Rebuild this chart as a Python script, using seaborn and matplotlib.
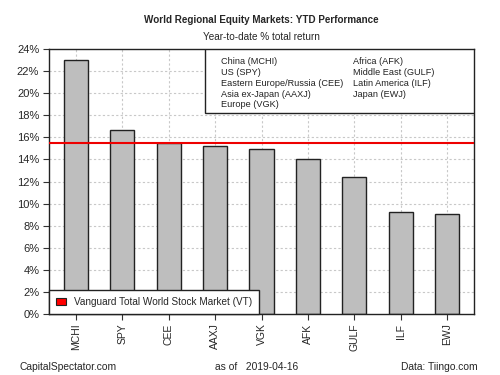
import matplotlib
matplotlib.use("Agg")
import matplotlib.pyplot as plt
import matplotlib.patches as mpatches
import pandas as pd
import seaborn as sns

tickers = ['MCHI', 'SPY', 'CEE', 'AAXJ', 'VGK', 'AFK', 'GULF', 'ILF', 'EWJ']
returns = [23.0, 16.7, 15.5, 15.2, 14.95, 14.0, 12.45, 9.2, 9.05]
vt_return = 15.5
names_left = ['China (MCHI)', 'US (SPY)', 'Eastern Europe/Russia (CEE)', 'Asia ex-Japan (AAXJ)',
              'Europe (VGK)']
names_right = ['Africa (AFK)', 'Middle East (GULF)', 'Latin America (ILF)', 'Japan (EWJ)']

df = pd.DataFrame({'ticker': tickers, 'ret': returns})

sns.set_style("white")
plt.rcParams['font.family'] = ['Liberation Sans', 'DejaVu Sans']

fig = plt.figure(figsize=(5, 3.75), dpi=100)
ax = fig.add_axes([0.098, 0.163, 0.85, 0.706])

# grid first so bars sit on top
for i in range(len(tickers)):
    ax.axvline(i, color='#c8c8c8', lw=0.8, ls=(0, (2, 2)), zorder=0)
for y in range(2, 24, 2):
    ax.axhline(y, color='#c8c8c8', lw=0.8, ls=(0, (2, 2)), zorder=0)

sns.barplot(data=df, x='ticker', y='ret', color='#bebebe', saturation=1,
            edgecolor='#222222', linewidth=1.0, width=0.52, ax=ax, zorder=2)

ax.axhline(vt_return, color='#ee0000', lw=1.5, zorder=3)

ax.set_ylim(0, 24)
ax.set_xlim(-0.58, len(tickers) - 1 + 0.58)
ax.set_yticks(range(0, 25, 2))
ax.set_yticklabels([f'{v}%' for v in range(0, 25, 2)], fontsize=8)
ax.set_xticks(range(len(tickers)))
ax.set_xticklabels(tickers, rotation=90, fontsize=7.5)
ax.set_xlabel('')
ax.set_ylabel('')
ax.tick_params(axis='both', length=4, width=0.8, color='#333333', direction='out',
               left=True, bottom=True, pad=3)
for s in ax.spines.values():
    s.set_color('#222222')
    s.set_linewidth(1.0)

# fund name key, top right (text only, like the R legend)
box = mpatches.Rectangle((0.367, 0.758), 0.633, 0.242, transform=ax.transAxes,
                         facecolor='white', edgecolor='#222222', lw=1.0, zorder=5)
ax.add_patch(box)
row_y = [0.955, 0.913, 0.872, 0.830, 0.789]
for yy, name in zip(row_y, names_left):
    ax.text(0.405, yy, name, transform=ax.transAxes, fontsize=6.6, va='center',
            color='#222222', zorder=6)
for yy, name in zip(row_y, names_right):
    ax.text(0.715, yy, name, transform=ax.transAxes, fontsize=6.6, va='center',
            color='#222222', zorder=6)

vt_patch = mpatches.Patch(facecolor='#ff0000', edgecolor='#222222', lw=0.8,
                          label='Vanguard Total World Stock Market (VT)')
leg2 = ax.legend(handles=[vt_patch], loc='lower left', fontsize=7.2, frameon=True,
                 fancybox=False, edgecolor='#222222', handlelength=1.0, handleheight=0.8,
                 borderpad=0.7, borderaxespad=0, framealpha=1)
leg2.get_frame().set_linewidth(1.0)

fig.text(0.523, 0.947, 'World Regional Equity Markets: YTD Performance', ha='center',
         va='center', fontsize=7.1, fontweight='bold')
fig.text(0.523, 0.901, 'Year-to-date % total return', ha='center', va='center', fontsize=7.2)
fig.text(0.04, 0.022, 'CapitalSpectator.com', ha='left', va='center', fontsize=7.4)
fig.text(0.43, 0.022, 'as of   2019-04-16', ha='left', va='center', fontsize=7.4)
fig.text(0.955, 0.022, 'Data: Tiingo.com', ha='right', va='center', fontsize=7.4)

fig.savefig('out.png', dpi=100)
